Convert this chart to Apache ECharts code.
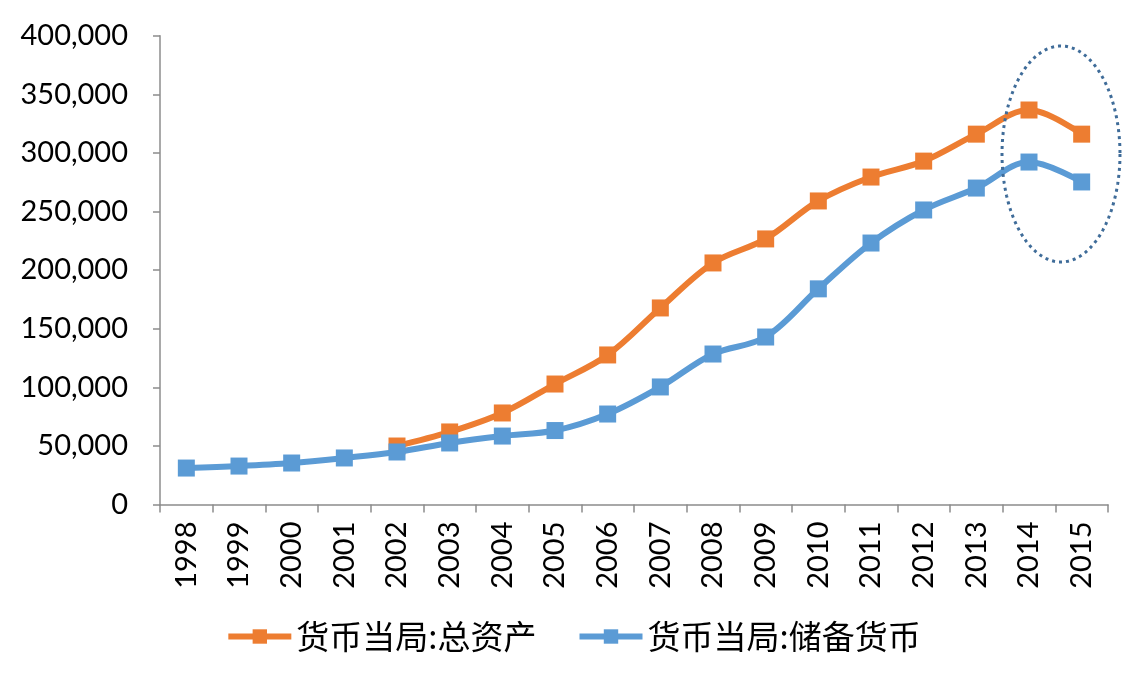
<!DOCTYPE html>
<html><head><meta charset="utf-8">
<script src="https://cdn.jsdelivr.net/npm/echarts@6/dist/echarts.min.js"></script>
<style>html,body{margin:0;padding:0;background:#fff}#c{width:1146px;height:688px}</style>
</head><body><div id="c"></div>
<script>
const years = ['1998','1999','2000','2001','2002','2003','2004','2005','2006','2007','2008','2009','2010','2011','2012','2013','2014','2015'];
const totalAssets = [null,null,null,null,49900,61900,78100,102800,127600,167700,206100,226600,259000,279400,293000,316000,336600,316000];
const reserveMoney = [31100,32800,35400,39700,44800,52500,58400,63100,77200,100300,128400,142900,184000,223100,251300,270000,292200,275200];
const yTicks = [0,50000,100000,150000,200000,250000,300000,350000,400000];
const seriesNames = ['货币当局:总资产','货币当局:储备货币'];

const chart = echarts.init(document.getElementById('c'));
const cx = 1061, cy = 154, rx = 59, ry = 108;
const ell = [];
for (let i = 0; i < 160; i++) { const t = i / 160 * Math.PI * 2; ell.push([cx + rx * Math.cos(t), cy + ry * Math.sin(t)]); }
const font = 'Lato, "Open Sans", sans-serif';
chart.setOption({
  animation: false,
  grid: {left: 160, right: 38, top: 35.7, bottom: 183.5},
  legend: {
    bottom: 30, left: 'center', itemWidth: 63, itemHeight: 18, itemGap: 40,
    lineStyle: {width: 6},
    textStyle: {fontFamily: '"Noto Sans CJK SC"', fontSize: 33, color: '#000'},
    data: seriesNames
  },
  xAxis: {
    type: 'category', data: years, boundaryGap: true,
    axisLine: {lineStyle: {color: '#8c8c8c', width: 1.5}},
    axisTick: {show: true, length: 8, alignWithLabel: false, lineStyle: {color: '#8c8c8c', width: 1.5}},
    axisLabel: {rotate: 90, margin: 17, fontSize: 29, fontFamily: font, color: '#000'}
  },
  yAxis: {
    type: 'value', min: 0, max: 400000, interval: 50000,
    splitLine: {show: false},
    axisLine: {show: true, lineStyle: {color: '#8c8c8c', width: 1.5}},
    axisTick: {show: true, length: 7, lineStyle: {color: '#8c8c8c', width: 1.5}},
    axisLabel: {margin: 32, fontSize: 29, fontFamily: font, color: '#000',
      formatter: v => yTicks.includes(v) ? v.toLocaleString('en-US') : ''}
  },
  series: [
    {name: seriesNames[0], type: 'line', data: totalAssets, smooth: 0.35, connectNulls: false,
     symbol: 'rect', symbolSize: 17, lineStyle: {width: 6, color: '#ED7D31'}, itemStyle: {color: '#ED7D31'}, z: 2},
    {name: seriesNames[1], type: 'line', data: reserveMoney, smooth: 0.35,
     symbol: 'rect', symbolSize: 17, lineStyle: {width: 6, color: '#5B9BD5'}, itemStyle: {color: '#5B9BD5'}, z: 3}
  ],
  graphic: [{
    type: 'polygon', shape: {points: ell}, z: 100,
    style: {fill: 'none', stroke: '#3F6C99', lineWidth: 3, lineDash: [3, 4]}
  }]
});
</script></body></html>
